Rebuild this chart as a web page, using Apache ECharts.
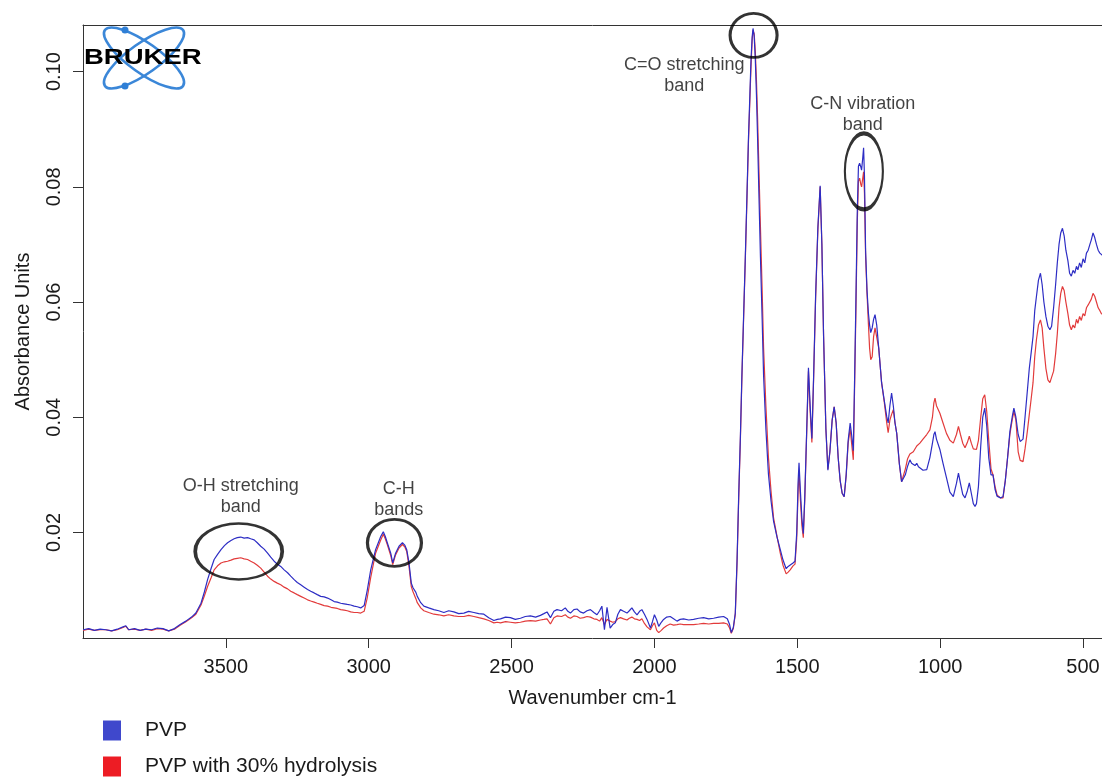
<!DOCTYPE html>
<html>
<head>
<meta charset="utf-8">
<script src="https://cdn.jsdelivr.net/npm/echarts@6/dist/echarts.min.js"></script>
<style>
html,body{margin:0;padding:0;background:#fff;}
#chart{width:1102px;height:777px;}
</style>
</head>
<body>
<div id="chart"></div>
<script>
// ---- data ----
const wavenumbers = [4000,3980,3960,3940,3920,3900,3880,3860,3850,3840,3820,3800,3780,3760,3740,3720,3700,3680,3660,3640,3620,3605,3587,3575,3564,3552,3541,3529,3517,3505,3494,3482,3471,3460,3448,3436,3424,3413,3401,3390,3378,3366,3354,3343,3331,3320,3308,3296,3284,3273,3261,3250,3238,3226,3214,3203,3191,3180,3168,3156,3144,3132,3121,3110,3098,3086,3075,3063,3051,3040,3028,3016,3005,2993,2976,2958,2949,2942,2935,2923,2916,2906,2894,2882,2874,2867,2859,2851,2845,2841,2835,2830,2818,2807,2790,2772,2755,2737,2720,2702,2685,2667,2650,2632,2615,2597,2580,2562,2550,2539,2521,2504,2487,2469,2452,2434,2416,2399,2387,2376,2364,2352,2341,2325,2312,2303,2294,2282,2271,2260,2248,2236,2224,2212,2201,2192,2184,2175,2166,2155,2146,2137,2128,2119,2108,2096,2088,2079,2070,2061,2052,2044,2035,2026,2014,2007,2000,1992,1985,1976,1968,1957,1945,1933,1921,1910,1898,1880,1863,1845,1828,1810,1793,1775,1758,1745,1737,1731,1724,1717,1711,1705,1699,1694,1688,1682,1676,1671,1666,1662,1658,1655,1651,1647,1643,1639,1634,1629,1623,1618,1610,1601,1592,1583,1571,1560,1550,1539,1532,1525,1515,1508,1502,1497,1494,1489,1484,1479,1474,1467,1461,1455,1449,1443,1436,1428,1420,1414,1408,1400,1393,1386,1378,1371,1364,1357,1350,1343,1336,1329,1322,1315,1310,1304,1299,1295,1290,1286,1282,1278,1275,1271,1268,1265,1261,1256,1251,1247,1243,1238,1233,1228,1222,1215,1205,1196,1187,1182,1176,1170,1164,1158,1152,1143,1135,1130,1122,1114,1106,1100,1094,1088,1082,1076,1071,1060,1047,1036,1027,1022,1018,1013,1008,1001,990,978,966,954,943,936,929,921,913,905,898,891,884,878,873,866,858,851,844,837,830,822,815,808,801,797,789,780,772,764,756,748,742,735,727,720,715,710,703,695,688,682,675,669,663,656,649,643,637,630,623,616,610,603,596,590,584,578,572,566,560,553,547,541,535,529,523,518,512,506,500,494,488,482,476,471,465,459,453,447,441,436,430];

const pvp = [.0031,.0033,.0030,.0032,.0031,.0029,.0032,.0036,.0038,.0031,.0033,.0030,.0032,.0031,.0034,.0033,.0029,.0033,.0040,.0046,.0053,.0060,.0077,.0097,.0118,.0137,.0153,.0162,.0170,.0177,.0182,.0186,.0189,.0191,.0192,.0190,.0191,.0189,.0187,.0182,.0176,.0171,.0164,.0157,.0150,.0145,.0141,.0135,.0130,.0124,.0118,.0113,.0109,.0105,.0101,.0098,.0095,.0092,.0089,.0088,.0086,.0083,.0080,.0079,.0077,.0076,.0075,.0074,.0072,.0071,.0069,.0073,.0100,.0135,.0170,.0193,.0201,.0193,.0182,.0164,.0147,.0164,.0176,.0182,.0178,.0170,.0147,.0112,.0104,.0106,.0096,.0089,.0078,.0072,.0069,.0066,.0064,.0061,.0064,.0062,.0059,.0060,.0063,.0061,.0059,.0058,.0052,.0047,.0049,.0050,.0053,.0052,.0049,.0051,.0054,.0055,.0053,.0056,.0059,.0062,.0052,.0063,.0066,.0064,.0069,.0063,.0060,.0066,.0067,.0062,.0060,.0064,.0066,.0061,.0057,.0064,.0072,.0031,.0070,.0034,.0040,.0043,.0058,.0066,.0063,.0060,.0064,.0069,.0062,.0057,.0063,.0066,.0058,.0049,.0034,.0045,.0057,.0048,.0037,.0044,.0049,.0053,.0054,.0050,.0046,.0049,.0050,.0048,.0049,.0051,.0052,.0050,.0051,.0053,.0054,.0050,.0040,.0026,.0035,.0060,.0150,.0267,.0370,.0472,.0575,.0678,.0790,.0884,.0960,.1021,.1060,.1075,.1062,.1021,.0960,.0884,.0780,.0678,.0570,.0472,.0380,.0301,.0255,.0219,.0192,.0171,.0152,.0137,.0141,.0144,.0147,.0150,.0200,.0290,.0321,.0270,.0225,.0198,.0260,.0380,.0486,.0420,.0363,.0470,.0610,.0730,.0802,.0700,.0540,.0380,.0308,.0340,.0395,.0418,.0390,.0330,.0290,.0268,.0262,.0300,.0360,.0390,.0370,.0342,.0480,.0600,.0760,.0836,.0841,.0835,.0829,.0850,.0868,.0820,.0690,.0620,.0580,.0560,.0547,.0555,.0570,.0578,.0560,.0520,.0460,.0430,.0401,.0390,.0420,.0442,.0420,.0390,.0372,.0320,.0288,.0286,.0300,.0315,.0326,.0320,.0322,.0316,.0320,.0314,.0312,.0308,.0309,.0330,.0355,.0370,.0375,.0362,.0365,.0344,.0320,.0295,.0270,.0262,.0285,.0303,.0285,.0266,.0260,.0272,.0286,.0268,.0250,.0245,.0250,.0280,.0350,.0400,.0416,.0385,.0330,.0300,.0300,.0275,.0263,.0262,.0260,.0262,.0290,.0330,.0375,.0400,.0416,.0400,.0370,.0358,.0355,.0362,.0400,.0445,.0485,.0510,.0540,.0585,.0610,.0638,.0650,.0630,.0600,.0575,.0558,.0552,.0558,.0590,.0630,.0668,.0700,.0720,.0728,.0715,.0690,.0672,.0650,.0645,.0655,.0650,.0662,.0656,.0668,.0660,.0675,.0668,.0685,.0690,.0700,.0708,.0720,.0712,.0700,.0690,.0685,.0682,.0680];

const pvpHydrolysis = [.0030,.0032,.0030,.0031,.0031,.0029,.0031,.0035,.0037,.0031,.0032,.0030,.0032,.0030,.0033,.0032,.0029,.0032,.0039,.0045,.0052,.0058,.0074,.0090,.0106,.0121,.0135,.0142,.0147,.0149,.0150,.0152,.0154,.0155,.0156,.0154,.0153,.0150,.0147,.0143,.0138,.0131,.0124,.0119,.0115,.0112,.0109,.0105,.0102,.0098,.0095,.0092,.0089,.0086,.0083,.0081,.0079,.0077,.0075,.0073,.0072,.0070,.0069,.0068,.0066,.0065,.0064,.0062,.0061,.0061,.0060,.0063,.0087,.0122,.0164,.0187,.0197,.0189,.0179,.0160,.0144,.0161,.0173,.0179,.0175,.0167,.0141,.0106,.0097,.0095,.0085,.0078,.0069,.0064,.0061,.0058,.0057,.0055,.0057,.0055,.0054,.0054,.0056,.0054,.0052,.0050,.0047,.0043,.0044,.0043,.0045,.0044,.0043,.0044,.0046,.0047,.0046,.0048,.0049,.0050,.0041,.0052,.0055,.0054,.0057,.0053,.0051,.0055,.0054,.0051,.0052,.0054,.0053,.0050,.0049,.0046,.0052,.0040,.0049,.0046,.0044,.0045,.0050,.0052,.0050,.0048,.0051,.0053,.0050,.0049,.0047,.0050,.0042,.0036,.0031,.0038,.0043,.0030,.0026,.0030,.0034,.0038,.0041,.0039,.0040,.0041,.0040,.0040,.0040,.0041,.0042,.0041,.0042,.0042,.0043,.0041,.0034,.0025,.0033,.0058,.0145,.0260,.0365,.0466,.0570,.0672,.0782,.0876,.0950,.1010,.1055,.1072,.1066,.1035,.0985,.0920,.0825,.0730,.0620,.0520,.0420,.0330,.0272,.0225,.0193,.0165,.0143,.0128,.0131,.0135,.0142,.0145,.0190,.0275,.0305,.0255,.0212,.0191,.0255,.0375,.0480,.0410,.0356,.0465,.0605,.0725,.0800,.0700,.0540,.0380,.0310,.0340,.0395,.0418,.0390,.0330,.0290,.0268,.0262,.0298,.0355,.0380,.0355,.0326,.0465,.0580,.0740,.0810,.0815,.0805,.0800,.0815,.0826,.0790,.0680,.0615,.0560,.0520,.0500,.0505,.0540,.0555,.0557,.0520,.0460,.0428,.0390,.0373,.0395,.0405,.0413,.0390,.0372,.0320,.0288,.0286,.0310,.0328,.0336,.0338,.0340,.0342,.0350,.0352,.0355,.0362,.0370,.0378,.0400,.0425,.0433,.0420,.0423,.0407,.0390,.0372,.0360,.0355,.0370,.0384,.0370,.0355,.0347,.0356,.0367,.0355,.0345,.0344,.0344,.0360,.0400,.0432,.0439,.0410,.0360,.0310,.0300,.0280,.0265,.0262,.0260,.0260,.0290,.0330,.0370,.0395,.0410,.0395,.0340,.0325,.0323,.0323,.0345,.0375,.0405,.0430,.0460,.0505,.0535,.0560,.0569,.0555,.0520,.0485,.0465,.0460,.0460,.0480,.0510,.0545,.0590,.0615,.0627,.0620,.0600,.0580,.0560,.0552,.0560,.0555,.0570,.0563,.0575,.0568,.0580,.0576,.0590,.0595,.0598,.0605,.0615,.0610,.0600,.0590,.0585,.0580,.0578];

const seriesNames = ['PVP', 'PVP with 30% hydrolysis'];
const xTicks = [3500, 3000, 2500, 2000, 1500, 1000, 500];
const yTicks = [0.02, 0.04, 0.06, 0.08, 0.10];

// band annotations (ellipse centres and text anchors, in data units)
const bandLabels = ['O-H stretching\nband', 'C-H\nbands', 'C=O stretching\nband', 'C-N vibration\nband'];
const bandCenterWn = [3455, 2910, 1653, 1267];
const bandCenterAbs = [0.0167, 0.0182, 0.1063, 0.0827];
const labelWn = [3448, 2895, 1896, 1271];
const labelAbs = [0.0262, 0.0257, 0.0994, 0.0925];

// ---- chart ----
const FONT = '"Liberation Sans", Arial, sans-serif';
const ellipseSizes = [[87, 56], [54, 47], [47, 44], [38, 76]];
// visible x-range: the plot frame is cut by the right edge of the picture
const X_LEFT = 4000, X_RIGHT = 433.6;

const chart = echarts.init(document.getElementById('chart'), null, {renderer: 'canvas'});

const toPairs = vals => wavenumbers.map((w, i) => [w, vals[i]]);

const option = {
  backgroundColor: '#ffffff',
  animation: false,
  grid: {left: 83, top: 25, right: 0, bottom: 139, show: false, containLabel: false, outerBoundsMode: 'none'},
  legend: {
    data: seriesNames,
    orient: 'vertical',
    left: 103, top: 720, width: 400, height: 70, padding: 0,
    itemWidth: 18, itemHeight: 20, itemGap: 15,
    icon: 'rect',
    textStyle: {fontFamily: FONT, fontSize: 21, color: '#1a1a1a', padding: [0, 0, 0, 19]},
    selectedMode: false
  },
  xAxis: [{
    type: 'value', inverse: true, min: X_RIGHT, max: X_LEFT,
    name: 'Wavenumber cm-1', nameLocation: 'middle', nameGap: 50,
    nameTextStyle: {fontFamily: FONT, fontSize: 20, color: '#1a1a1a'},
    axisLine: {show: true, lineStyle: {color: '#333', width: 1}},
    axisTick: {show: true, length: 10, lineStyle: {color: '#333'}, customValues: xTicks},
    axisLabel: {fontFamily: FONT, fontSize: 20, color: '#1a1a1a', margin: 19, customValues: xTicks, formatter: v => String(v)},
    splitLine: {show: false}
  }, {
    type: 'value', inverse: true, min: X_RIGHT, max: X_LEFT, position: 'top',
    axisLine: {show: true, lineStyle: {color: '#333', width: 1}},
    axisTick: {show: false}, axisLabel: {show: false}, splitLine: {show: false}
  }],
  yAxis: {
    type: 'value', min: 0.00167, max: 0.1081,
    name: 'Absorbance Units', nameLocation: 'middle', nameGap: 50,
    nameTextStyle: {fontFamily: FONT, fontSize: 20, color: '#1a1a1a'},
    axisLine: {show: true, lineStyle: {color: '#333', width: 1}},
    axisTick: {show: true, length: 10, lineStyle: {color: '#333'}, customValues: yTicks},
    axisLabel: {fontFamily: FONT, fontSize: 20, color: '#1a1a1a', margin: 19, rotate: 90, customValues: yTicks, formatter: v => v.toFixed(2)},
    splitLine: {show: false}
  },
  series: [
    {
      name: seriesNames[1], type: 'line', data: toPairs(pvpHydrolysis),
      showSymbol: false, symbol: 'none', color: '#ED1C24',
      lineStyle: {color: '#e23b3b', width: 1.2}, z: 2
    },
    {
      name: seriesNames[0], type: 'line', data: toPairs(pvp),
      showSymbol: false, symbol: 'none', color: '#3F48CC',
      lineStyle: {color: '#2d2dc4', width: 1.2}, z: 3
    },
    {
      name: 'bands', type: 'scatter', clip: false, silent: true, z: 5,
      data: bandCenterWn.map((w, i) => ({value: [w, bandCenterAbs[i]], symbolSize: ellipseSizes[i]})),
      symbol: 'circle',
      itemStyle: {color: 'rgba(0,0,0,0)', borderColor: '#000', borderWidth: 3}
    },
    {
      name: 'bandText', type: 'scatter', clip: false, silent: true, z: 6,
      symbolSize: 0,
      data: labelWn.map((w, i) => ({value: [w, labelAbs[i]], name: bandLabels[i]})),
      label: {show: true, position: 'inside', formatter: p => p.name, fontFamily: FONT, fontSize: 18, lineHeight: 21, color: '#111', align: 'center', verticalAlign: 'middle'}
    }
  ],
  graphic: [
    {type: 'ellipse', x: 144, y: 58, rotation: 0.62, shape: {cx: 0, cy: 0, rx: 48, ry: 15}, style: {fill: 'none', stroke: '#3b87d8', lineWidth: 2.6}, z: 10},
    {type: 'ellipse', x: 144, y: 58, rotation: -0.62, shape: {cx: 0, cy: 0, rx: 48, ry: 15}, style: {fill: 'none', stroke: '#3b87d8', lineWidth: 2.6}, z: 10},
    {type: 'circle', shape: {cx: 125, cy: 30, r: 3.5}, style: {fill: '#2f7fd6'}, z: 11},
    {type: 'circle', shape: {cx: 125, cy: 86, r: 3.5}, style: {fill: '#2f7fd6'}, z: 11},
    {type: 'text', x: 84, y: 58, scaleX: 1.25, style: {text: 'BRUKER', font: 'bold 22px "Liberation Sans", Arial, sans-serif', fill: '#000', textVerticalAlign: 'middle', verticalAlign: 'middle'}, z: 12}
  ]
};
chart.setOption(option);
</script>
</body>
</html>
